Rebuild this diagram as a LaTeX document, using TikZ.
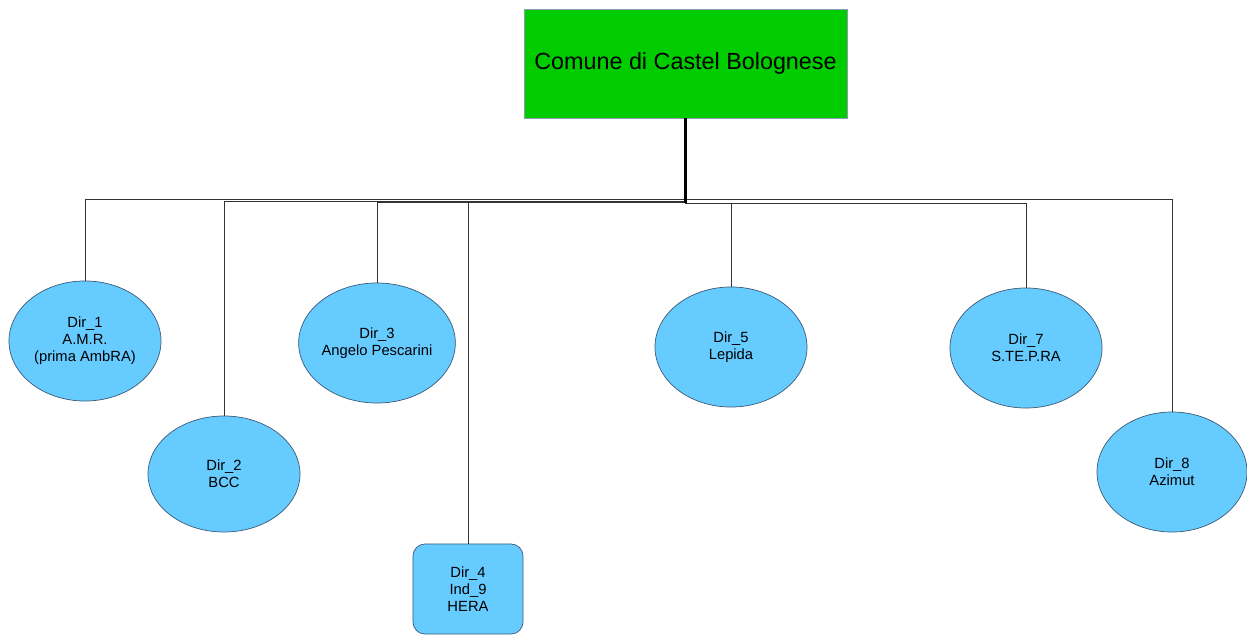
\documentclass[tikz,border=0pt]{standalone}
\usepackage{fontspec}
\setmainfont{Liberation Sans}
\usepackage{xcolor}
\usetikzlibrary{shapes.geometric}
\usetikzlibrary{calc}
\usetikzlibrary{positioning}

\definecolor{rootgreen}{RGB}{0,204,0}
\definecolor{dirblue}{RGB}{102,204,255}
\definecolor{dirline}{RGB}{60,90,120}

\begin{document}
\begin{tikzpicture}[x=0.025cm,y=-0.025cm,
                    link/.style={draw=black!80,line width=0.7pt},
                    trunk/.style={draw=black,line width=1.6pt}]
  \tikzstyle{dir}=[ellipse, fill=dirblue, draw=dirline, line width=0.5pt,
                   minimum width=3.8cm, minimum height=3cm, inner sep=0pt,
                   align=center, font=\fontsize{10.5}{12.2}\selectfont]
  \useasboundingbox (0,0) rectangle (1247,636);
  \node[rectangle, fill=rootgreen, draw=dirline!60, line width=0.5pt,
        minimum width=8.075cm, minimum height=2.725cm,
        font=\fontsize{16.6}{19}\selectfont] (root) at (685.5,63.5) {Comune di Castel Bolognese};
  \node[dir] (d1) at (85,341)   {Dir\_1\\A.M.R.\\(prima AmbRA)};
  \node[dir, minimum height=2.9cm] (d2) at (224,474) {Dir\_2\\BCC};
  \node[dir] (d3) at (377,343)  {Dir\_3\\Angelo Pescarini};
  \node[rectangle, rounded corners=0.3cm, fill=dirblue, draw=dirline, line width=0.5pt,
        minimum width=2.75cm, minimum height=2.25cm, inner sep=0pt, align=center,
        font=\fontsize{10.5}{12.2}\selectfont] (d4) at (468,589) {Dir\_4\\Ind\_9\\HERA};
  \node[dir] (d5) at (731,347)  {Dir\_5\\Lepida};
  \node[dir] (d7) at (1026,348) {Dir\_7\\S.TE.P.RA};
  \node[dir, minimum width=3.75cm] (d8) at (1172,472) {Dir\_8\\Azimut};

  \coordinate (hub) at ($(root.south)+(0,85)$);
  \path[link] (root.south) -- ++(0,81.5) -| (d1.north)
              (root.south) -- ++(0,83) -| (d2.north)
              (root.south) -- ++(0,84) -| (d3.north)
              (root.south) -- ++(0,84) -| (d4.north)
              (root.south) -- ++(0,85) -| (d5.north)
              (root.south) -- ++(0,85) -| (d7.north)
              (root.south) -- ++(0,81.5) -| (d8.north);
  \draw[trunk] (root.south) -- (hub);
\end{tikzpicture}
\end{document}
